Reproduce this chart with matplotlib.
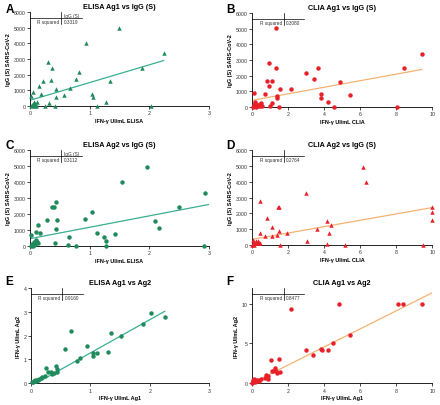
import matplotlib
matplotlib.use("Agg")
import matplotlib.pyplot as plt
import numpy as np

plt.rcParams['font.family'] = ['Liberation Sans', 'DejaVu Sans']

# panel A - ELISA Ag1 vs IgG (S)
aX = [1.50, 0.94, 2.24, 1.87, 0.30, 0.37, 0.82, 0.22, 0.35, 0.77, 0.16, 0.67, 0.44, 1.34, 0.05,
      0.18, 0.57, 0.44, 1.04, 1.06, 1.28, 0.32, 0.01, 0.42, 0.25, 1.12, 2.02, 0.03, 0.06, 0.08,
      0.11, 0.01, 0.04, 0.06, 0.10, 0.07, 0.12]
aY = [5000, 4050, 3370, 2440, 2800, 2440, 2160, 1610, 1630, 1740, 1270, 1140, 1060, 1570, 870,
      740, 720, 550, 760, 590, 280, 190, 610, 0, 0, 0, 0, 80, 250, 150,
      80, 0, 40, 0, 0, 200, 250]
# panel B - CLIA Ag1 vs IgG (S)
bX = [1.30, 9.44, 8.42, 0.93, 1.34, 3.66, 2.99, 3.42, 0.84, 1.12, 4.87, 0.93, 1.54, 2.17, 0.11,
      0.71, 3.85, 5.43, 1.39, 3.85, 1.39, 4.20, 1.12, 1.02, 1.49, 4.55, 8.05, 0.09, 0.18, 0.28,
      0.37, 0.46, 0.55, 0.04, 0.22, 0.42, 0.52, 0.14, 0.31]
bY = [5040, 3390, 2480, 2820, 2460, 2460, 2180, 1760, 1630, 1650, 1590, 1310, 1120, 1160, 890,
      800, 800, 760, 680, 590, 590, 320, 230, 60, 20, 20, 0, 150, 280, 100,
      150, 50, 60, 0, 20, 200, 250, 300, 80]
# panel C - ELISA Ag2 vs IgG (S)
cX = [1.96, 1.55, 2.94, 2.49, 0.43, 0.37, 0.40, 1.04, 0.92, 0.29, 0.45, 2.10, 2.17, 0.44, 0.13,
      0.10, 0.17, 1.13, 1.42, 0.65, 1.24, 1.27, 0.42, 0.64, 0.78, 1.27, 2.92, 0.01, 0.03, 0.06,
      0.08, 0.11, 0.12, 0.05, 0.07, 0.14, 0.02]
cY = [4960, 4000, 3290, 2440, 2750, 2420, 2420, 2150, 1710, 1600, 1600, 1540, 1150, 1060, 1290,
      850, 790, 790, 750, 580, 580, 310, 210, 40, 0, 0, 0, 670, 150, 250,
      100, 350, 250, 0, 50, 200, 30]
# panel D - CLIA Ag2 vs IgG (S)
dX = [6.15, 6.32, 2.97, 0.46, 1.43, 1.51, 0.84, 10, 10, 10, 1.08, 4.18, 4.37, 3.59, 0.46,
      1.51, 1.95, 4.28, 0.71, 1.13, 1.38, 3.07, 1.56, 4.18, 5.15, 9.48, 0.06, 0.09, 0.15, 0.24,
      0.30, 0.39, 0.02, 0.05, 0.20, 0.34, 0.44, 0.12]
dY = [4950, 4000, 3310, 2770, 2430, 2430, 1700, 2410, 2100, 1570, 1130, 1490, 1260, 1030, 760,
      860, 730, 780, 570, 590, 630, 230, 0, 80, 0, 0, 300, 200, 100, 270,
      170, 100, 0, 60, 150, 250, 120, 20]
# panel E - ELISA Ag1 vs Ag2
eX = [2.02, 2.25, 1.88, 1.35, 0.67, 1.52, 0.94, 0.57, 0.82, 0.78, 1.05, 1.11, 1.04, 1.29, 0.25,
      0.42, 0.44, 0.43, 0.29, 0.33, 0.35, 0.38, 0.23, 0.19, 0.16, 0.13, 0.10, 0.07, 0.05, 0.03,
      0.02, 0.06, 0.09, 0.11]
eY = [2.93, 2.79, 2.48, 2.11, 2.18, 1.98, 1.54, 1.43, 1.05, 0.94, 1.26, 1.26, 1.15, 1.29, 0.65,
      0.70, 0.59, 0.45, 0.45, 0.45, 0.38, 0.42, 0.31, 0.24, 0.21, 0.17, 0.15, 0.13, 0.10, 0.06,
      0.03, 0.08, 0.09, 0.12]
# panel F - CLIA Ag1 vs Ag2
fX = [2.16, 4.85, 8.08, 8.40, 9.44, 5.43, 4.50, 2.97, 3.84, 3.88, 4.20, 3.38, 1.03, 1.49, 1.27,
      1.08, 1.18, 1.32, 1.55, 1.36, 0.76, 0.86, 0.71, 0.90, 0.52, 0.34, 0.06, 0.11, 0.15, 0.21,
      0.24, 0.02, 0.04, 0.28, 0.40]
fY = [9.41, 10, 10, 10, 10, 6.09, 5.04, 4.24, 4.33, 4.12, 4.16, 3.57, 2.94, 3.03, 1.89,
      1.51, 1.51, 1.51, 1.39, 1.22, 1.01, 0.84, 0.67, 0.46, 0.46, 0.34, 0.21, 0.46, 0.13, 0.34,
      0.25, 0.04, 0.38, 0.21, 0.30]

# regression lines (intercept, slope, x start, x end) and r squared
fitA = (360, 1134, 0, 2.24)
fitB = (424, 209, 0, 9.44)
fitC = (458, 715, 0, 3.0)
fitD = (356, 201, 0, 10)
fitE = (-0.13, 1.40, 0, 2.25)
fitF = (0.0, 1.14, 0, 10)
rSquared = ["0.3319", "0.3080", "0.3112", "0.2764", "0.9160", "0.8477"]

titles = ["ELISA Ag1 vs IgG (S)", "CLIA Ag1 vs IgG (S)", "ELISA Ag2 vs IgG (S)",
          "CLIA Ag2 vs IgG (S)", "ELISA Ag1 vs Ag2", "CLIA Ag1 vs Ag2"]
xLabels = ["IFN-\u03b3 UI/mL ELISA", "IFN-\u03b3 UI/mL CLIA", "IFN-\u03b3 UI/mL ELISA",
           "IFN-\u03b3 UI/mL CLIA", "IFN-\u03b3 UI/mL Ag1", "IFN-\u03b3 UI/mL Ag1"]
yLabels = ["IgG (S) SARS-CoV-2"] * 4 + ["IFN-\u03b3 UI/mL Ag2"] * 2
letters = ["A", "B", "C", "D", "E", "F"]

green = "#1f8a5b"
greenLine = "#3aae93"
red = "#e8202a"
orangeLine = "#f4b273"
tickGrey = "#333333"

fig = plt.figure(figsize=(4.4, 4.06), dpi=100)

# axes rectangles in figure fraction
boxes = [(0.068, 0.7365, 0.407, 0.2315), (0.573, 0.734, 0.409, 0.2315),
         (0.068, 0.3916, 0.407, 0.236), (0.573, 0.394, 0.409, 0.234),
         (0.0705, 0.054, 0.405, 0.234), (0.573, 0.054, 0.409, 0.234)]


def drawTable(ax, rsq, header):
    tr = ax.transAxes
    ax.plot([0, 0.29], [0.936, 0.936], color="k", lw=0.5, transform=tr, clip_on=False)
    ax.plot([0.175, 0.175], [1.0, 0.875], color="k", lw=0.5, transform=tr, clip_on=False)
    if header:
        ax.text(0.19, 0.967, "IgG (S)", fontsize=3.4, transform=tr, va="center", ha="left",
                color=tickGrey)
    ax.text(0.165, 0.9, "R squared", fontsize=3.4, transform=tr, va="center", ha="right",
            color=tickGrey)
    ax.text(0.19, 0.9, rsq, fontsize=3.4, transform=tr, va="center", ha="left", color=tickGrey)


def drawPanel(i, xs, ys, fit, marker, col, lineCol, xMax, xTicks, yMax, yTicks):
    ax = fig.add_axes(boxes[i])
    b, m, x1, x2 = fit
    lx = np.array([x1, x2])
    ax.plot(lx, b + m * lx, color=lineCol, lw=0.9, zorder=2)
    ax.plot(xs, ys, linestyle="none", marker=marker, ms=3.2, color=col,
            markeredgewidth=0, zorder=3, clip_on=False)
    ax.set_xlim(0, xMax)
    ax.set_ylim(0, yMax)
    ax.set_xticks(xTicks)
    ax.set_yticks(yTicks)
    for s in ["top", "right"]:
        ax.spines[s].set_visible(False)
    for s in ["left", "bottom"]:
        ax.spines[s].set_linewidth(0.6)
    ax.tick_params(labelsize=3.8, width=0.5, length=2, pad=1.2, labelcolor=tickGrey)
    ax.set_title(titles[i], fontsize=5.2, fontweight="bold", pad=3)
    ax.set_xlabel(xLabels[i], fontsize=4, fontweight="bold", labelpad=2)
    ax.set_ylabel(yLabels[i], fontsize=4, fontweight="bold", labelpad=2)
    drawTable(ax, rSquared[i], i in (0, 2))
    return ax


igTicks = [0, 1000, 2000, 3000, 4000, 5000, 6000]
drawPanel(0, aX, aY, fitA, "^", green, greenLine, 3, [0, 1, 2, 3], 6000, igTicks)
drawPanel(1, bX, bY, fitB, "o", red, orangeLine, 10, [0, 2, 4, 6, 8, 10], 6000, igTicks)
drawPanel(2, cX, cY, fitC, "o", green, greenLine, 3, [0, 1, 2, 3], 6000, igTicks)
drawPanel(3, dX, dY, fitD, "^", red, orangeLine, 10, [0, 2, 4, 6, 8, 10], 6000, igTicks)
drawPanel(4, eX, eY, fitE, "o", green, greenLine, 3, [0, 1, 2, 3], 4, [0, 1, 2, 3, 4])
drawPanel(5, fX, fY, fitF, "o", red, orangeLine, 10, [0, 2, 4, 6, 8, 10], 12, [0, 5, 10])

# panel letters
letterPos = [(0.012, 0.975), (0.515, 0.975), (0.012, 0.64), (0.515, 0.64),
             (0.012, 0.305), (0.515, 0.305)]
for l, (px, py) in zip(letters, letterPos):
    fig.text(px, py, l, fontsize=8.5, fontweight="bold", va="center", ha="left")

fig.savefig("out.png", dpi=100)
